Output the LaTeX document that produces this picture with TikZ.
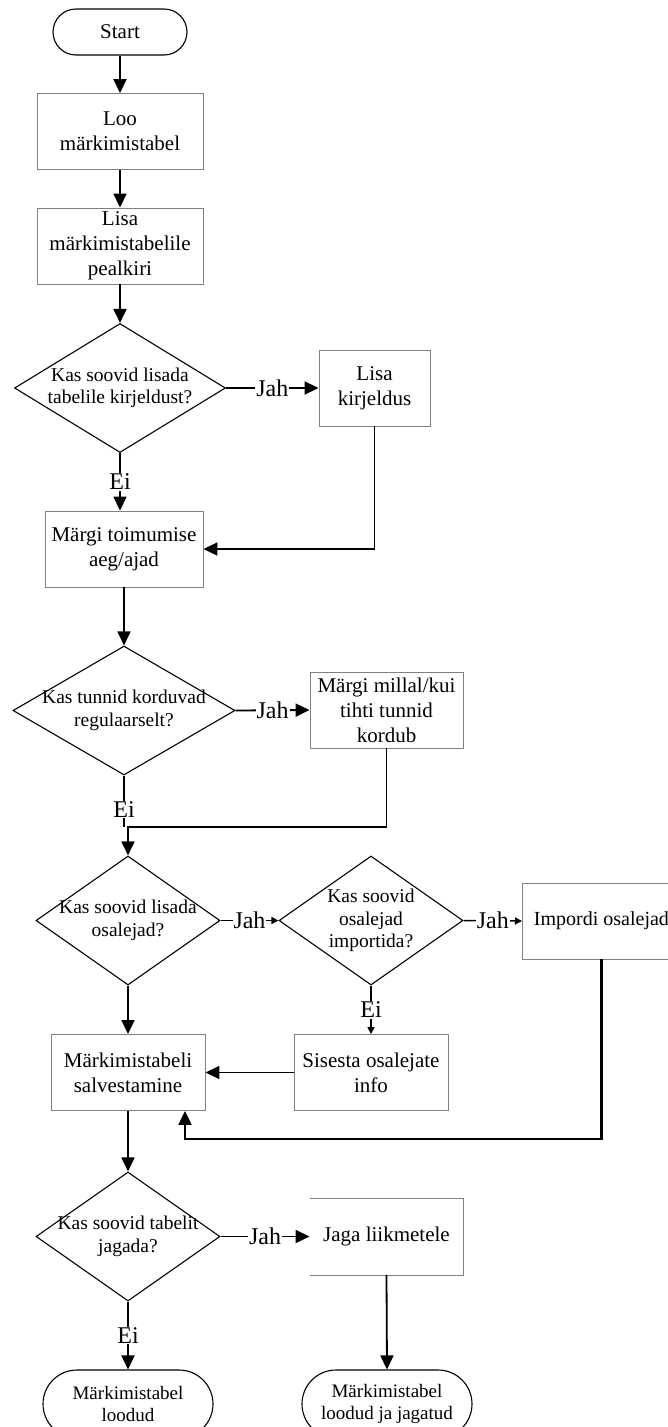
\documentclass[tikz,border=0pt]{standalone}
\usepackage{fontspec}
\setmainfont{Liberation Serif}
\usetikzlibrary{shapes.geometric,arrows.meta}

\begin{document}
\begin{tikzpicture}[x=1pt,y=-1pt,
    box/.style={draw=black!50,line width=0.9pt,minimum width=#1,minimum height=76pt,
      inner sep=2pt,align=center,font=\fontsize{21}{25}\selectfont},
    term/.style={draw,line width=1.1pt,rounded corners=#1,inner sep=2pt,align=center},
    dec/.style={diamond,draw,line width=1.1pt,inner sep=0pt,minimum width=#1,minimum height=129pt},
    dtext/.style={align=center,font=\fontsize{19.5}{22.5}\selectfont},
    lbl/.style={fill=white,inner sep=1pt,font=\fontsize{24}{24}\selectfont},
    arr/.style={line width=1.8pt,-{Triangle[length=14pt,width=13pt]}},
    arrs/.style={line width=1.5pt,-{Triangle[length=7pt,width=7pt]}},
    ln/.style={line width=1.6pt}]
    \useasboundingbox (0,0) rectangle (668,1427);
    \clip (0,0) rectangle (668,1427);

    \node[term=23pt,minimum width=134pt,minimum height=46pt,font=\fontsize{21}{25}\selectfont] (start) at (120,32) {Start};
    \node[box=166pt] (loo) at (120,131.5) {Loo\\märkimistabel};
    \node[box=166pt] (pealk) at (120,246) {Lisa\\märkimistabelile\\pealkiri};
    \node[dec=211pt,label={[dtext]center:Kas soovid lisada\\tabelile kirjeldust?}] (d1) at (120,388) {};
    \node[box=111pt] (kirj) at (374.5,388) {Lisa\\kirjeldus};
    \node[box=158pt] (aeg) at (124,549) {Märgi toimumise\\aeg/ajad};
    \node[dec=222pt,label={[dtext]center:Kas tunnid korduvad\\regulaarselt?}] (d2) at (124,710.5) {};
    \node[box=153pt] (kord) at (386.5,710) {Märgi millal/kui\\tihti tunnid\\kordub};
    \node[dec=184pt,label={[dtext]center:Kas soovid lisada\\osalejad?}] (d3) at (128,920.5) {};
    \node[dec=184pt,label={[dtext]center:Kas soovid\\osalejad\\importida?}] (d4) at (371,920.5) {};
    \node[box=158pt,anchor=west,inner sep=4pt,font=\fontsize{20}{24}\selectfont] (imp) at (522,921) {Impordi osalejad};
    \node[box=154pt] (sis) at (371,1072.5) {Sisesta osalejate\\info};
    \node[box=154pt] (salv) at (128,1072.5) {Märkimistabeli\\salvestamine};
    \node[dec=184pt,label={[dtext]center:Kas soovid tabelit\\jagada?}] (d5) at (128,1236.5) {};
    \node[box=153pt,draw=none] (jaga) at (386.5,1236.5) {Jaga liikmetele};
    \draw[draw=black!50,line width=0.9pt] (jaga.north west) -- (jaga.north east)
      -- (jaga.south east) -- (jaga.south west);
    \node[term=34pt,minimum width=170pt,minimum height=68pt,font=\fontsize{19}{22}\selectfont] (end1) at (128,1404) {Märkimistabel\\loodud};
    \node[term=34pt,minimum width=170pt,minimum height=68pt,font=\fontsize{19}{22}\selectfont] (end2) at (387,1404) {Märkimistabel\\loodud ja jagatud};

    \draw[arr] (start) -- (loo);
    \draw[arr] (loo) -- (pealk);
    \draw[arr] (pealk) -- (d1);
    \draw[arr] (d1.east) -- node[lbl]{Jah} (kirj);
    \draw[arr] (d1.south) -- node[lbl]{Ei} (d1.south |- aeg.north);
    \draw[arr] (kirj.south) |- (aeg.east);
    \draw[arr] (aeg.south) -- (d2.north);
    \draw[arr] (d2.east) -- node[lbl]{Jah} (kord.west);
    \coordinate (merge) at (128,827);
    \draw[ln] (d2.south) -- node[lbl,pos=0.66]{Ei} (d2.south |- merge);
    \draw[arr] (kord.south) |- (merge) -- (d3.north);
    \draw[arrs] (d3.east) -- node[lbl]{Jah} (d4.west);
    \draw[arrs] (d4.east) -- node[lbl]{Jah} (imp.west);
    \draw[arrs] (d4.south) -- node[lbl]{Ei} (sis.north);
    \draw[arr] (d3.south) -- (salv.north);
    \draw[arr] (sis.west) -- (salv.east);
    \coordinate (back) at (185,1139);
    \draw[arr,line width=2.3pt] (imp.south) |- (back) -- (back |- salv.south);
    \draw[arr] (salv.south) -- (d5.north);
    \draw[arr] (d5.east) -- node[lbl]{Jah} (jaga.west);
    \draw[arr] (d5.south) -- node[lbl]{Ei} (end1.north);
    \draw[arr] (jaga.south) -- (end2.north);
\end{tikzpicture}
\end{document}
